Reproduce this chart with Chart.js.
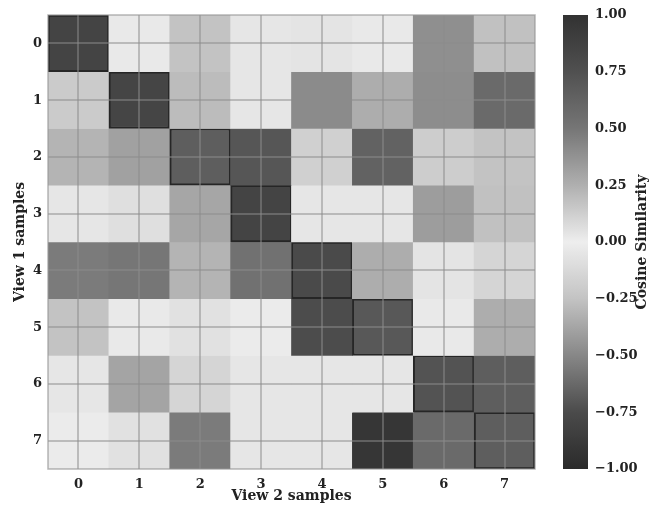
<!DOCTYPE html>
<html><head><meta charset="utf-8">
<script src="https://cdn.jsdelivr.net/npm/chart.js@4.4.0/dist/chart.umd.min.js"></script>
<style>
html,body{margin:0;padding:0;background:#fff;}
#wrap{position:relative;width:653px;height:508px;}
#wrap canvas{position:absolute;left:0;top:0;}
</style></head><body>
<div id="wrap"><canvas id="main" width="653" height="508"></canvas><canvas id="cbar" width="653" height="508"></canvas></div>
<script>
// ---- data ----
const rowLabels = ['0','1','2','3','4','5','6','7'];   // View 1 samples
const colLabels = ['0','1','2','3','4','5','6','7'];   // View 2 samples
const row0 = [0.85, 0.02, 0.17, 0.03, 0.04, 0.02, 0.39, 0.18];
const row1 = [0.14, 0.84, 0.20, 0.03, 0.41, 0.26, 0.40, 0.58];
const row2 = [0.23, 0.31, 0.66, 0.71, 0.12, 0.63, 0.13, 0.17];
const row3 = [0.03, 0.06, 0.29, 0.85, 0.03, 0.03, 0.33, 0.18];
const row4 = [0.48, 0.50, 0.23, 0.53, 0.80, 0.26, 0.04, 0.10];
const row5 = [0.17, 0.02, 0.05, 0.01, 0.78, 0.70, 0.02, 0.26];
const row6 = [0.03, 0.30, 0.10, 0.03, 0.03, 0.03, 0.73, 0.66];
const row7 = [0.01, 0.05, 0.48, 0.03, 0.03, 0.97, 0.58, 0.66];
const similarity = [row0, row1, row2, row3, row4, row5, row6, row7];
const colorbarTicks = [-1, -0.75, -0.5, -0.25, 0, 0.25, 0.5, 0.75, 1];

// ---- colormap (diverging grey) ----
const posStops = [[0,238],[0.25,175],[0.5,118],[0.75,80],[1,50]];
const negStops = [[0,238],[0.25,195],[0.5,135],[0.75,75],[1,42]];
function grey(v){
  const s = v >= 0 ? posStops : negStops;
  const a = Math.min(1, Math.abs(v));
  let g = s[s.length-1][1];
  for (let i = 0; i < s.length-1; i++){
    if (a >= s[i][0] && a <= s[i+1][0]){
      const t = (a - s[i][0]) / (s[i+1][0] - s[i][0]);
      g = s[i][1] + t*(s[i+1][1] - s[i][1]);
      break;
    }
  }
  g = Math.round(g);
  return `rgb(${g},${g},${g})`;
}

const FONT = "'DejaVu Serif', serif";
const tickFont = {family: FONT, size: 13, weight: 'bold'};
const titleFont = {family: FONT, size: 14, weight: 'bold'};

const datasets = rowLabels.map((rl, r) => ({
  label: 'View 1 sample ' + rl,
  data: colLabels.map(() => [r - 0.5, r + 0.5]),
  backgroundColor: similarity[r].map(v => grey(v)),
  borderColor: colLabels.map((c, j) => j === r ? '#262626' : 'rgba(0,0,0,0)'),
  borderWidth: colLabels.map((c, j) => j === r ? 2 : 0),
  borderSkipped: false,
  barPercentage: 1,
  categoryPercentage: 1,
  grouped: false
}));

const framePlugin = {
  id: 'frame',
  afterDraw(chart){
    const {ctx, chartArea: a} = chart;
    ctx.save();
    ctx.strokeStyle = 'rgba(150,150,150,0.7)';
    ctx.lineWidth = 1.5;
    ctx.strokeRect(a.left, a.top, a.right - a.left, a.bottom - a.top);
    ctx.restore();
  }
};

new Chart(document.getElementById('main'), {
  type: 'bar',
  data: {labels: colLabels, datasets},
  options: {
    responsive: false,
    animation: false,
    layout: {padding: {left: 0, top: 15, right: 118, bottom: 0}},
    plugins: {legend: {display: false}, tooltip: {enabled: false}},
    scales: {
      x: {
        type: 'category',
        grid: {offset: false, color: 'rgba(140,140,140,0.5)', lineWidth: 2, drawTicks: false, z: 1},
        border: {display: false},
        ticks: {font: tickFont, color: '#222', padding: 8, maxRotation: 0},
        title: {display: true, text: 'View 2 samples', font: titleFont, color: '#222', padding: {top: 0, bottom: 3}},
        afterFit: s => { s.height = 39; }
      },
      y: {
        type: 'linear',
        reverse: true,
        min: -0.5,
        max: 7.5,
        afterBuildTicks: a => { a.ticks = rowLabels.map((l, i) => ({value: i})); },
        grid: {color: 'rgba(140,140,140,0.5)', lineWidth: 2, drawTicks: false, z: 1},
        border: {display: false},
        ticks: {font: tickFont, color: '#222', padding: 6, callback: v => rowLabels[v]},
        title: {display: true, text: 'View 1 samples', font: titleFont, color: '#222', padding: {top: 12, bottom: 0}},
        afterFit: s => { s.width = 48; }
      }
    }
  },
  plugins: [framePlugin]
});

// ---- colorbar ----
const cbarTitle = {
  id: 'cbarTitle',
  afterDraw(chart){
    const {ctx, chartArea: a} = chart;
    ctx.save();
    ctx.translate(642, (a.top + a.bottom) / 2);
    ctx.rotate(-Math.PI / 2);
    ctx.font = "bold 14px 'DejaVu Serif', serif";
    ctx.fillStyle = '#222';
    ctx.textAlign = 'center';
    ctx.textBaseline = 'middle';
    ctx.fillText('Cosine Similarity', 0, 0);
    ctx.restore();
  }
};

new Chart(document.getElementById('cbar'), {
  type: 'bar',
  data: {
    labels: [''],
    datasets: [{
      data: [[colorbarTicks[0], colorbarTicks[colorbarTicks.length-1]]],
      backgroundColor: (c) => {
        const chart = c.chart;
        if (!chart.chartArea) return '#888';
        const y = chart.scales.y;
        const y0 = y.getPixelForValue(-1), y1 = y.getPixelForValue(1);
        const g = chart.ctx.createLinearGradient(0, y0, 0, y1);
        for (let k = 0; k <= 40; k++){
          const v = -1 + k * 0.05;
          g.addColorStop(k / 40, grey(v));
        }
        return g;
      },
      borderWidth: 0,
      barPercentage: 1,
      categoryPercentage: 1
    }]
  },
  options: {
    responsive: false,
    animation: false,
    layout: {padding: {left: 563, top: 15, right: 0, bottom: 39}},
    plugins: {legend: {display: false}, tooltip: {enabled: false}},
    scales: {
      x: {display: false},
      y: {
        position: 'right',
        min: -1, max: 1,
        afterBuildTicks: a => { a.ticks = colorbarTicks.map(v => ({value: v})); },
        grid: {display: false, drawTicks: false},
        border: {display: false},
        ticks: {font: tickFont, color: '#222', padding: 7,
                callback: v => (v < 0 ? '\u2212' : '') + Math.abs(v).toFixed(2)},
        afterFit: s => { s.width = 65; }
      }
    }
  },
  plugins: [cbarTitle]
});
</script>
</body></html>
